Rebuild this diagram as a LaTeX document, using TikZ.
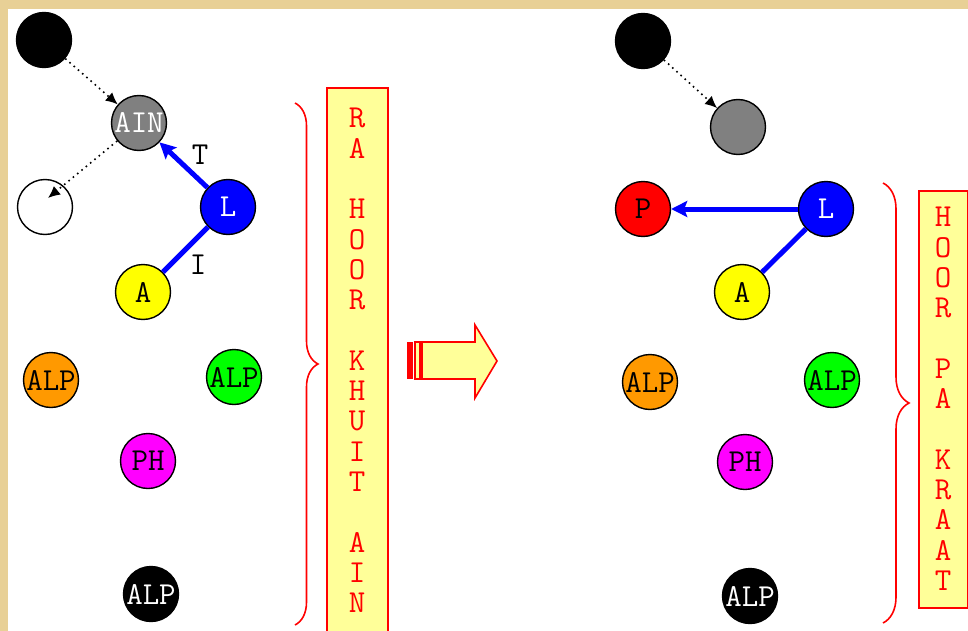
\documentclass[tikz,border=0pt]{standalone}
\usepackage{tikz}
\usetikzlibrary{shapes,arrows.meta,decorations.pathreplacing}
\definecolor{papyrus}{RGB}{232,208,150}
\definecolor{paleyel}{RGB}{255,255,153}
\definecolor{orng}{RGB}{255,153,0}
\definecolor{mgnt}{RGB}{255,0,255}
\definecolor{yllw}{RGB}{255,255,0}
\definecolor{grn}{RGB}{0,255,0}
\definecolor{blu}{RGB}{0,0,255}
\definecolor{rd}{RGB}{255,0,0}
\definecolor{gry}{RGB}{128,128,128}
\tikzstyle{ball} = [circle, draw=black, line width=0.7pt, minimum size=27.5pt, inner sep=0pt, font=\ttfamily\fontsize{16}{16}\selectfont]
\tikzstyle{link} = [blu, line width=2.5pt]
\tikzstyle{arrow} = [link, -{Stealth[length=8pt, width=8pt, inset=1.5pt]}]
\tikzstyle{ptr} = [black, dotted, thick, -{Latex[length=6pt, width=5.5pt]}]
\tikzstyle{scroll} = [rectangle, draw=rd, line width=1pt, fill=paleyel, anchor=north west, inner sep=0pt]
\tikzstyle{word} = [anchor=north, text=rd, align=center, inner sep=0pt, font=\ttfamily\fontsize{16}{15.15}\selectfont]
\tikzstyle{curly} = [rd, line width=0.8pt, decorate, decoration={brace, amplitude=11.5pt}]
\tikzstyle{tag} = [inner sep=0pt, font=\ttfamily\fontsize{16}{16}\selectfont]

\begin{document}
\begin{tikzpicture}[x=0.5pt, y=-0.5pt]
    \useasboundingbox (0,0) rectangle (968,631);
    \clip (0,0) rectangle (968,631);
    \fill [papyrus] (0,0) rectangle (968,631);
    \fill [white] (8,9) rectangle (968,631);

    % before
    \node (topL) [ball, fill=black] at (44,40) {};
    \node (ainL) [ball, fill=gry, text=white] at (139,123) {AIN};
    \node (freeL) [ball, fill=white] at (45,207) {};
    \node (lL) [ball, fill=blu, text=white] at (228,207) {L};
    \node (aL) [ball, fill=yllw] at (143,292) {A};
    \node (alpaL) [ball, fill=orng] at (51,380) {ALP};
    \node (alpbL) [ball, fill=grn] at (234,377) {ALP};
    \node (phL) [ball, fill=mgnt] at (148,461) {PH};
    \node (alpcL) [ball, fill=black, text=white] at (151,594) {ALP};
    \coordinate (tipL) at (48,198);

    \draw [ptr] (topL) -- (ainL);
    \draw [ptr] (ainL) -- (tipL);
    \draw [arrow] (lL) -- (ainL);
    \draw [link] (lL) -- (aL);
    \node (tL) [tag] at (200,155) {T};
    \node (iL) [tag] at (198,265) {I};

    \draw [curly] (295,103) -- (295,625);
    \node (boxL) [scroll, minimum width=30.5pt, minimum height=280pt] at (326,87) {};
    \node (wordL) [word] at (357,108) {R\\A\\~\\H\\O\\O\\R\\~\\K\\H\\U\\I\\T\\~\\A\\I\\N};

    % big arrow
    \fill [rd] (407,342) rectangle (413,379);
    \draw [rd, line width=0.8pt, fill=paleyel] (415,342) rectangle (420,379);
    \draw [rd, line width=0.8pt, fill=paleyel] (422,342) -- (475,342) -- (475,325) -- (497,361) -- (475,398) -- (475,379) -- (422,379) -- cycle;

    % after
    \node (topR) [ball, fill=black] at (643,41) {};
    \node (ainR) [ball, fill=gry] at (738,127) {};
    \node (pR) [ball, fill=rd] at (643,209) {P};
    \node (lR) [ball, fill=blu, text=white] at (826,209) {L};
    \node (aR) [ball, fill=yllw] at (742,292) {A};
    \node (alpaR) [ball, fill=orng] at (650,382) {ALP};
    \node (alpbR) [ball, fill=grn] at (832,380) {ALP};
    \node (phR) [ball, fill=mgnt] at (745,462) {PH};
    \node (alpcR) [ball, fill=black, text=white] at (750,596) {ALP};

    \draw [ptr] (topR) -- (ainR);
    \draw [arrow] (lR) -- (pR);
    \draw [link] (lR) -- (aR);

    \draw [curly, decoration={brace, amplitude=13pt}] (883,183) -- (883,623);
    \node (boxR) [scroll, minimum width=24.5pt, minimum height=208.5pt] at (918,190) {};
    \node (wordR) [word] at (943,207) {H\\O\\O\\R\\~\\P\\A\\~\\K\\R\\A\\A\\T};
\end{tikzpicture}
\end{document}
